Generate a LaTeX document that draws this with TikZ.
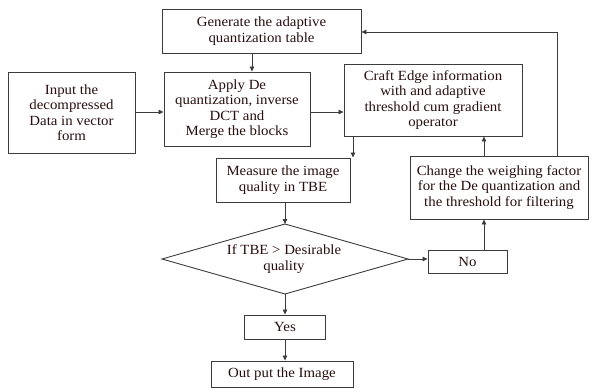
\documentclass[tikz,border=0pt]{standalone}
\usepackage{fontspec}
\setmainfont{Liberation Serif}[FakeStretch=1.06]
\usetikzlibrary{arrows.meta,calc}
\definecolor{txt}{RGB}{40,14,14}
\definecolor{ln}{RGB}{60,60,60}
\tikzset{
  box/.style={draw=ln,line width=0.9pt,rectangle,inner sep=0pt,align=center,text=txt,font=\fontsize{14}{15.5}\selectfont},
  lbl/.style={inner sep=0pt,align=center,text=txt,font=\fontsize{14}{15.5}\selectfont},
  arr/.style={draw=ln,line width=0.8pt,-{Triangle[length=5pt,width=4.5pt]}},
  ln/.style={draw=ln,line width=0.9pt}
}
\begin{document}
\begin{tikzpicture}[x=1pt,y=-1pt]
\useasboundingbox (0,0) rectangle (595,388);
\node[box,minimum width=199pt,minimum height=44pt] (gen) at (261.5,31) {Generate the adaptive\\quantization table};
\node[box,minimum width=127pt,minimum height=81pt] (inp) at (71.5,112.5) {Input the\\decompressed\\Data in vector\\form};
\node[box,minimum width=146pt,minimum height=74pt] (app) at (237,109) {Apply De\\quantization, inverse\\DCT and\\Merge the blocks};
\node[box,minimum width=178pt,minimum height=72pt] (cra) at (433,100) {Craft Edge information\\with and adaptive\\threshold cum gradient\\operator};
\node[box,minimum width=134pt,minimum height=44pt] (mea) at (283,180) {Measure the image\\quality in TBE};
\node[box,minimum width=178pt,minimum height=63pt] (cha) at (499,187.5) {Change the weighing factor\\for the De quantization and\\the threshold for filtering};
\coordinate (dn) at (285,224);
\coordinate (de) at (408,259);
\coordinate (ds) at (285,294);
\coordinate (dw) at (162,259);
\draw[ln] (dn) -- (de) -- (ds) -- (dw) -- cycle;
\node[lbl] (dia) at (284,259) {If TBE \textgreater{} Desirable\\quality};
\node[box,minimum width=79pt,minimum height=23pt] (no) at (467.5,261.5) {No};
\node[box,minimum width=81pt,minimum height=24pt] (yes) at (285,327) {Yes};
\node[box,minimum width=142pt,minimum height=26pt] (out) at (282,374) {Out put the Image};
\coordinate (xa) at (252,0);
\coordinate (xb) at (353,0);
\coordinate (xc) at (484,0);
\coordinate (xd) at (557,0);
\coordinate (ya) at (0,112);
\coordinate (yb) at (0,32);
\draw[arr] (gen.south -| xa) -- (app.north -| xa);
\draw[arr] (inp.east |- ya) -- (app.west |- ya);
\draw[arr] (app.east |- ya) -- (cra.west |- ya);
\draw[arr] (cra.south -| xb) -- (mea.north -| xb);
\draw[arr] (mea.south -| dn) -- (dn);
\draw[arr] (de) -- (no.west |- de);
\draw[arr] (no.north -| xc) -- (cha.south -| xc);
\draw[arr] (cha.north -| xc) -- (cra.south -| xc);
\draw[arr] (cha.north -| xd) -- (xd |- yb) -- (gen.east |- yb);
\draw[arr] (ds) -- (yes.north -| ds);
\draw[arr] (yes.south -| ds) -- (out.north -| ds);
\end{tikzpicture}
\end{document}
